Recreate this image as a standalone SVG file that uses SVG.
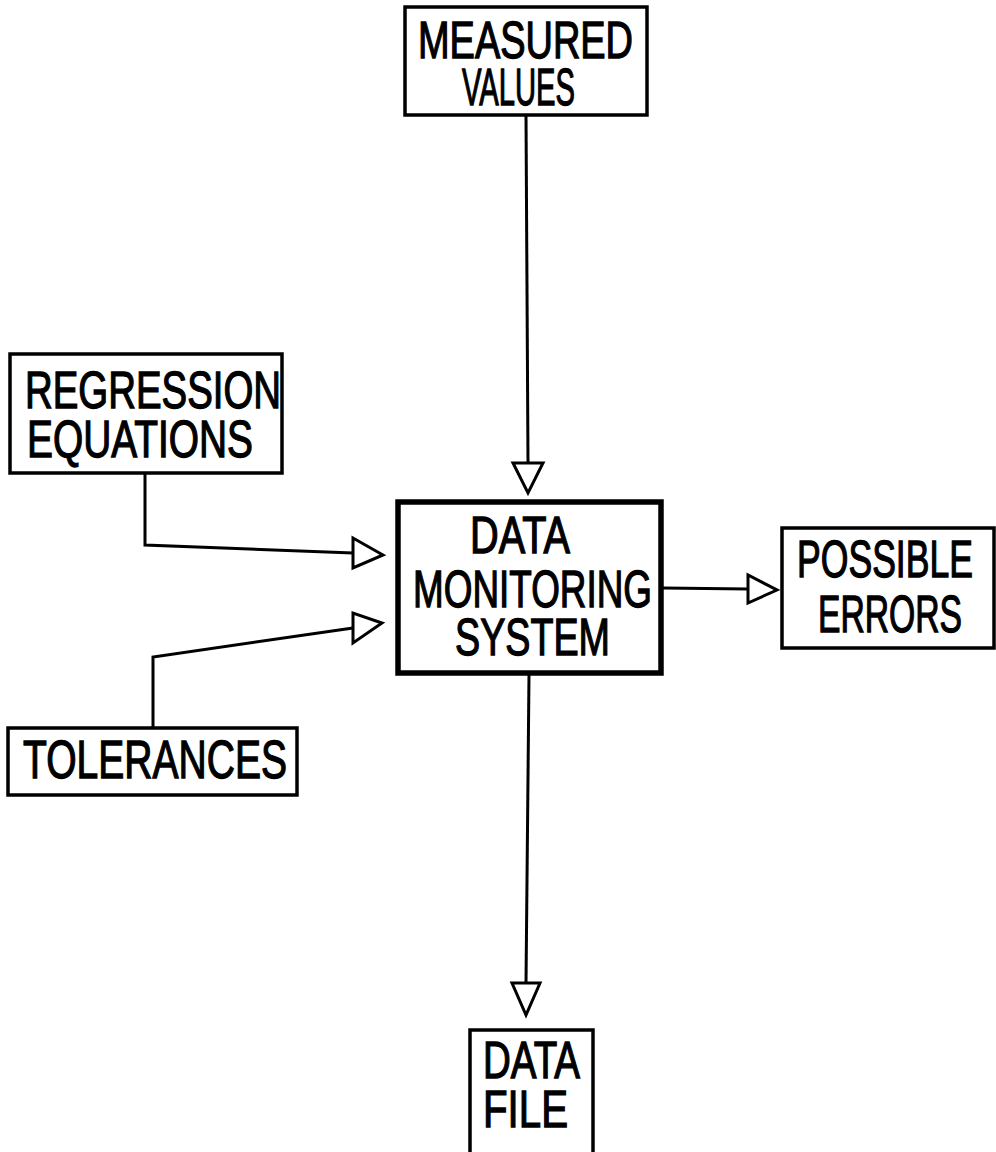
<svg xmlns="http://www.w3.org/2000/svg" width="996" height="1152" viewBox="0 0 996 1152">
<style>
.box{fill:#fff;stroke:#000;stroke-width:3.5}
.thick{fill:#fff;stroke:#000;stroke-width:5.5}
.t{font-family:"Liberation Sans Narrow","Liberation Sans",Arial,sans-serif;font-size:51px;fill:#000;stroke:#000;stroke-width:1.3}
.ln{fill:none;stroke:#000;stroke-width:3}
.ah{fill:#fff;stroke:#000;stroke-width:3;stroke-linejoin:miter}
</style>
<rect width="996" height="1152" fill="#fff"/>
<g id="connectors">
<line class="ln" x1="526" y1="115" x2="528" y2="463"/>
<polygon class="ah" points="513,463 543,463 528,493"/>
<polyline class="ln" points="145,473 145,545 353,553"/>
<polygon class="ah" points="353,538 353,568 383,555"/>
<polyline class="ln" points="153,728 153,657 353,628"/>
<polygon class="ah" points="353,613 353,643 382,623"/>
<line class="ln" x1="663" y1="588" x2="748" y2="589"/>
<polygon class="ah" points="748,575 748,603 777,590"/>
<line class="ln" x1="529" y1="675" x2="526" y2="983"/>
<polygon class="ah" points="512,983 540,983 526,1015"/>
</g>
<g id="measured-values">
<rect class="box" x="405" y="7" width="242" height="108"/>
<text class="t" x="418" y="58" textLength="215" lengthAdjust="spacingAndGlyphs">MEASURED</text>
<text class="t" x="462" y="105" textLength="113" lengthAdjust="spacingAndGlyphs">VALUES</text>
</g>
<g id="regression-equations">
<rect class="box" x="10" y="354" width="272" height="119"/>
<text class="t" x="25" y="408" textLength="256" lengthAdjust="spacingAndGlyphs">REGRESSION</text>
<text class="t" x="27" y="457" textLength="226" lengthAdjust="spacingAndGlyphs">EQUATIONS</text>
</g>
<g id="tolerances">
<rect class="box" x="8" y="728" width="289" height="67"/>
<text class="t" x="23" y="778" style="font-size:53px" textLength="264" lengthAdjust="spacingAndGlyphs">TOLERANCES</text>
</g>
<g id="data-monitoring-system">
<rect class="thick" x="398" y="502" width="263" height="171"/>
<text class="t" x="470" y="553" textLength="100" lengthAdjust="spacingAndGlyphs">DATA</text>
<text class="t" x="413" y="607" textLength="239" lengthAdjust="spacingAndGlyphs">MONITORING</text>
<text class="t" x="455" y="655" textLength="155" lengthAdjust="spacingAndGlyphs">SYSTEM</text>
</g>
<g id="possible-errors">
<rect class="box" x="782" y="528" width="212" height="120"/>
<text class="t" x="797" y="577" textLength="176" lengthAdjust="spacingAndGlyphs">POSSIBLE</text>
<text class="t" x="818" y="632" textLength="144" lengthAdjust="spacingAndGlyphs">ERRORS</text>
</g>
<g id="data-file">
<rect class="box" x="470" y="1030" width="123" height="130"/>
<text class="t" x="483" y="1078" textLength="97" lengthAdjust="spacingAndGlyphs">DATA</text>
<text class="t" x="483" y="1127" textLength="85" lengthAdjust="spacingAndGlyphs">FILE</text>
</g>
</svg>
